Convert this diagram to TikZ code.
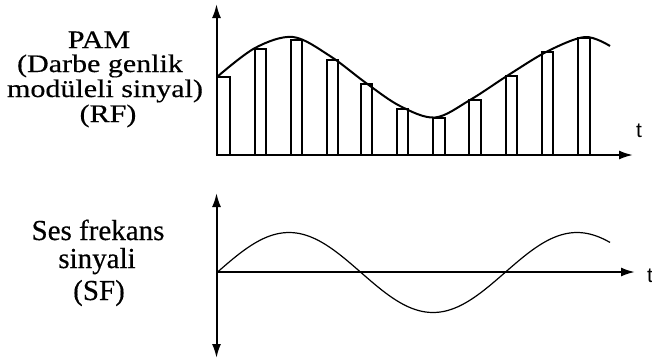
\documentclass[tikz,border=0pt]{standalone}
\usepackage{fontspec}
\setmainfont{Liberation Serif}
\newfontfamily\heavy{Liberation Serif}[BoldFont={Liberation Serif}, BoldFeatures={FakeBold=0.4}]
\newfontfamily\tfont{Liberation Sans}
\usetikzlibrary{arrows.meta}
\begin{document}
\begin{tikzpicture}[x=1pt,y=-1pt,
  axis/.style={line width=2pt, -{Latex[length=14pt,width=9pt]}},
  daxis/.style={line width=2pt, {Latex[length=14pt,width=9pt]}-{Latex[length=14pt,width=9pt]}},
  bar/.style={draw, line width=1.3pt, fill=white},
  pam/.style={line width=2pt, line join=round},
  sf/.style={line width=1.2pt, line join=round},
  lab/.style={anchor=base, inner sep=0pt, font=\heavy\bfseries\fontsize{30}{30}\selectfont},
  slab/.style={anchor=base, inner sep=0pt, font=\heavy\bfseries\fontsize{29}{29}\selectfont},
  tlab/.style={anchor=base west, inner sep=0pt, font=\tfont\fontsize{21}{21}\selectfont}]
\useasboundingbox (0,0) rectangle (652,360);
% ---- labels ----
\node[lab] (l1) at (99,48) {\scalebox{1}[0.84]{PAM}};
\node[lab] (l2) at (100,72) {\scalebox{1}[0.84]{(Darbe genlik}};
\node[lab] (l3) at (105,97) {\scalebox{1}[0.84]{modüleli sinyal)}};
\node[lab] (l4) at (108,122) {\scalebox{1}[0.84]{(RF)}};
\node[slab] (s1) at (98,240) {Ses frekans};
\node[slab] (s2) at (97,268) {sinyali};
\node[slab] (s3) at (99,300) {(SF)};
% ---- top plot ----
\foreach \a/\b/\h in {217/230/77, 255/266/49, 291/302/40, 327/338/60, 361/372/84,
  397/408/109, 433/445/118, 469/481/100, 506/517/76, 542/553/52, 578/590/38}
  \draw[bar] (\a,155) rectangle (\b,\h);
\draw[pam] plot[smooth, tension=0.55] coordinates {(217,77) (255,48) (293,37)
  (330,56) (366,83) (400,106) (435,117.5) (470,100) (510,74) (548,51) (585,37) (610,46)};
\coordinate (o1) at (216.5,155);
\coordinate (y1) at (216.5,4);
\coordinate (x1) at (633,155);
\draw[axis] (o1) -- (y1);
\draw[axis] ([xshift=-1pt]o1) -- (x1);
\node[tlab] (t1) at (636,137) {t};
% ---- bottom plot ----
\draw[sf] plot[domain=217:610, samples=120, smooth] (\x, {272.5-40*sin(1.25*(\x-217))});
\coordinate (yb) at (216.5,358);
\coordinate (yt) at (216.5,193);
\coordinate (o2) at (216.5,272);
\coordinate (x2) at (635,272);
\draw[daxis] (yb) -- (yt);
\draw[axis] (o2) -- (x2);
\node[tlab] (t2) at (647,282) {t};
\end{tikzpicture}
\end{document}
